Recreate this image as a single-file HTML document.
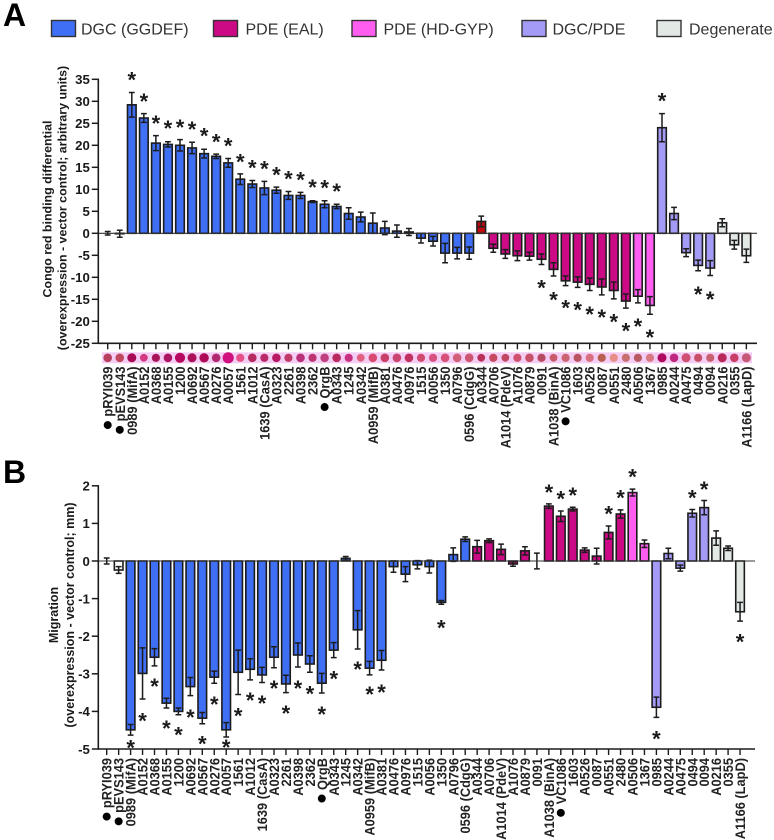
<!DOCTYPE html>
<html lang="en">
<head>
<meta charset="utf-8">
<title>Congo red binding and migration</title>
<style>
html,body{margin:0;padding:0;background:#fff;}
svg{display:block;font-family:"Liberation Sans",Arial,sans-serif;}
.tick{font-weight:bold;font-size:13.2px;fill:#1a1a1a;text-anchor:end;}
.title{font-weight:bold;fill:#1a1a1a;text-anchor:middle;}
.leg{font-size:16px;fill:#333;}
.letter{font-weight:bold;font-size:32px;fill:#000;}
.xl{font-weight:bold;font-size:13.5px;fill:#222;text-anchor:end;}
.star{font-weight:bold;font-size:22px;fill:#1a1a1a;text-anchor:middle;}
</style>
</head>
<body>
<svg id="fig" xmlns="http://www.w3.org/2000/svg" width="774" height="840" viewBox="0 0 774 840">
  <text class="letter" x="3" y="26">A</text>
  <text class="letter" x="3" y="483">B</text>
  <g>
    <rect x="51.5" y="20.5" width="24" height="16" fill="#3f6ff5" stroke="#333" stroke-width="1.4"/>
    <text class="leg" x="81" y="34.5">DGC (GGDEF)</text>
    <rect x="213.5" y="20.5" width="24" height="16" fill="#cc0a85" stroke="#333" stroke-width="1.4"/>
    <text class="leg" x="245.5" y="34.5">PDE (EAL)</text>
    <rect x="352" y="20.5" width="24" height="16" fill="#ff5cf0" stroke="#333" stroke-width="1.4"/>
    <text class="leg" x="383.5" y="34.5">PDE (HD-GYP)</text>
    <rect x="522" y="20.5" width="24" height="16" fill="#a39bf5" stroke="#333" stroke-width="1.4"/>
    <text class="leg" x="552.5" y="34.5">DGC/PDE</text>
    <rect x="657" y="20.5" width="24" height="16" fill="#e2e9e4" stroke="#333" stroke-width="1.4"/>
    <text class="leg" x="689" y="34.5">Degenerate</text>
  </g>
  <g transform="translate(51.5,209) rotate(-90)"><text class="title" font-size="12.4">Congo red binding differential</text></g>
  <g transform="translate(66.5,208) rotate(-90)"><text class="title" font-size="12.4">(overexpression - vector control; arbitrary units)</text></g>
  <g transform="translate(58,615) rotate(-90)"><text class="title" font-size="12.5">Migration</text></g>
  <g transform="translate(74,615) rotate(-90)"><text class="title" font-size="12.5">(overexpression - vector control; mm)</text></g>
  <rect x="102" y="352.3" width="650" height="11" fill="#f3cdf3"/>
</svg>
<script>
const labels = ["pRYI039","pEVS143","0989 (MifA)","A0152","A0368","A0155","1200","A0692","A0567","A0276","A0057","1561","A1012","1639 (CasA)","A0323","2261","A0398","2362","QrgB","A0343","1245","A0342","A0959 (MifB)","A0381","A0476","A0976","1515","A0056","1350","A0796","0596 (CdgG)","A0344","A0706","A1014 (PdeV)","A1076","A0879","0091","A1038 (BinA)","VC1086","1603","A0526","0087","A0551","2480","A0506","1367","0985","A0244","A0475","0494","0094","A0216","0355","A1166 (LapD)"];
const markedLabels = ["pRYI039","pEVS143","QrgB","VC1086"];

const valuesA = [0,-0.1,29.2,26.2,20.5,20.2,20,19.4,18.1,17.5,16,12.3,11.2,10.3,9.8,8.6,8.6,7.2,6.6,6.1,4.5,3.7,2.3,1.2,0.5,0.3,-1.1,-1.8,-4.5,-4.5,-4.5,2.7,-3.4,-4.7,-5.1,-5.2,-5.9,-8.2,-10.8,-11.1,-11.6,-12.2,-13,-15.4,-14.3,-16.4,24,4.5,-4.4,-7.3,-7.9,2.4,-2.6,-5.1];
const errorsA = [0.4,0.8,2.8,1,1.7,0.6,1.3,1.3,1,0.5,1,1.2,0.8,1.5,0.7,0.9,0.7,0.2,0.8,0.5,1.3,1.1,2.3,1.5,1.4,0.8,1.1,1.1,2.2,1.3,1.4,1.2,0.9,1,1.1,0.9,1.2,1.5,1.1,1.2,1.4,1.8,1.9,1.6,1.5,2,3.2,1.4,0.9,1.2,1.7,0.9,1,1.5];
const typesA = ["c","c","d","d","d","d","d","d","d","d","d","d","d","d","d","d","d","d","d","d","d","d","d","d","d","d","d","d","d","d","d","r","e","e","e","e","e","e","e","e","e","e","e","e","h","h","l","l","l","l","l","g","g","g"];
const starIdxA = [2,3,4,5,6,7,8,9,10,11,12,13,14,15,16,17,18,19,36,37,38,39,40,41,42,43,44,45,46,49,50];
const starLevelA = [36,31.2,26.2,25,25.2,24.8,23.3,22,21.1,17.4,16,15.8,14.4,13.5,13.3,11.6,11.5,10.7,-11.2,-13.9,-15.8,-16.2,-17.2,-17.9,-18.9,-21,-20,-22.5,31.3,-12.7,-13.8];
const ticksA = [35,30,25,20,15,10,5,0,-5,-10,-15,-20,-25];

const valuesB = [0,-0.24,-4.49,-2.99,-2.56,-3.78,-4,-3.34,-4.18,-3.09,-4.49,-2.96,-2.88,-3.03,-2.56,-3.27,-2.5,-2.74,-3.25,-2.37,0.07,-1.83,-2.85,-2.64,-0.15,-0.35,-0.1,-0.15,-1.1,0.17,0.58,0.38,0.54,0.31,-0.08,0.27,0,1.46,1.19,1.38,0.29,0.13,0.76,1.25,1.82,0.46,-3.89,0.2,-0.19,1.27,1.42,0.61,0.34,-1.35];
const errorsB = [0.08,0.09,0.14,0.68,0.23,0.13,0.09,0.24,0.15,0.16,0.19,0.59,0.28,0.2,0.28,0.23,0.32,0.22,0.26,0.2,0.05,0.51,0.18,0.26,0.15,0.2,0.11,0.17,0.05,0.18,0.06,0.17,0.05,0.14,0.06,0.11,0.21,0.06,0.14,0.05,0.06,0.21,0.17,0.11,0.09,0.1,0.27,0.14,0.08,0.1,0.19,0.19,0.06,0.25];
const typesB = ["c","c","d","d","d","d","d","d","d","d","d","d","d","d","d","d","d","d","d","d","d","d","d","d","d","d","d","d","d","d","d","e","e","e","e","e","e","e","e","e","e","e","e","e","h","h","l","l","l","l","l","g","g","g"];
const starIdxB = [2,3,4,5,6,7,8,9,10,11,12,13,14,15,16,17,18,19,21,22,23,28,37,38,39,42,43,44,46,49,50,53];
const starLevelB = [-4.83,-4.12,-3.2,-4.31,-4.49,-4.02,-4.73,-3.68,-4.82,-3.98,-3.57,-3.65,-3.25,-3.91,-3.25,-3.4,-3.94,-3,-2.75,-3.41,-3.35,-1.64,1.96,1.79,1.88,1.39,1.81,2.37,-4.59,1.81,2.04,-2.01];
const ticksB = [2,1,0,-1,-2,-3,-4,-5];

const colonyColors = ["#b8405f","#c04a5c","#a80a55","#d43a80","#a81558","#ad1560","#b50a60","#ab1058","#ad0a58","#b02a70","#d0107f","#e8508a","#b52a60","#bb2a68","#b81a65","#c03a68","#b83078","#bb3570","#c04080","#b82a60","#c83080","#e06080","#d84a70","#c84068","#cc4470","#c03060","#d04a70","#d85080","#d85078","#d06078","#cc5570","#b83058","#c84a60","#c04860","#d05070","#c85068","#b84a60","#c85a6a","#cc6570","#b85560","#d87080","#b86050","#e89088","#c87070","#b85a60","#d87880","#b00a60","#c02880","#d05075","#c85068","#c86070","#b82858","#c84068","#c85878"];
const colonySize = [4.3,4.3,4.5,3.9,4.1,4.3,5.1,4.5,4.7,4.3,5.6,4.1,4.3,4.1,4.3,4.1,4.3,4.1,4.3,4.3,4.1,3.9,4.3,4.3,4.3,4.3,4.1,4.1,4.3,4.3,4.3,3.9,4.1,3.9,4.1,4.3,4.1,3.9,4.1,4.1,4.1,4.1,4.1,4.1,4.1,4.1,4.5,4.3,4.5,4.1,4.1,4.5,4.3,4.5];

const fillColors = {c:"#ffffff",d:"#3f6ff5",r:"#c00a12",e:"#cc0a85",h:"#ff5cf0",l:"#a39bf5",g:"#e2e9e4"};

const NS = "http://www.w3.org/2000/svg";
const fig = document.getElementById("fig");
const labelSquash = 0.95;
function make(tag, attrs, parent) {
  const el = document.createElementNS(NS, tag);
  for (const k in attrs) el.setAttribute(k, attrs[k]);
  (parent || fig).appendChild(el);
  return el;
}

function drawPanel(p) {
  const yScale = v => p.y0 + -v * p.unit;
  const xScale = i => p.x0 + i * p.step;
  const g = make("g", {});
  
  
  const yTop = yScale(p.ticks[0]), yBot = yScale(p.ticks[p.ticks.length - 1]);

  p.values.forEach((v, i) => {
    const x = xScale(i), y = yScale(v), yz = yScale(0);
    const bar = make("rect", {x: x - 4.3, y: Math.min(y, yz), width: 8.6, height: Math.abs(y - yz), fill: fillColors[p.types[i]], stroke: "#1c1c1c", "stroke-width": 1.6}, g);
    
    
    const eh = yScale(v + p.errors[i]), el = yScale(v - p.errors[i]);
    const eg = make("path", {d: `M${x} ${eh}V${el}M${x - 2.9} ${eh}H${x + 2.9}M${x - 2.9} ${el}H${x + 2.9}`, stroke: "#1c1c1c", "stroke-width": 1.5, fill: "none"}, g);
    
    
  });

  const zero = make("line", {x1: p.axisX, x2: p.axisEnd, y1: yScale(0), y2: yScale(0), stroke: "#333", "stroke-width": 1.1}, g);
  
  
  const yAxis = make("line", {x1: p.axisX, x2: p.axisX, y1: yTop - 0.7, y2: yBot + 0.7, stroke: "#1c1c1c", "stroke-width": 1.6}, g);
  
  
  const xAxis = make("line", {x1: p.axisX, x2: p.axisEnd, y1: yBot, y2: yBot, stroke: "#1c1c1c", "stroke-width": 1.6}, g);
  
  

  p.ticks.forEach(t => {
    const tk = make("line", {x1: p.axisX - 6.5, x2: p.axisX, y1: yScale(t), y2: yScale(t), stroke: "#1c1c1c", "stroke-width": 1.5}, g);
    
    
    const lb = make("text", {x: p.axisX - 8.5, y: yScale(t) + 4.8, class: "tick"}, g);
    lb.textContent = String(t);
    
    
  });

  labels.forEach((name, i) => {
    const x = xScale(i);
    const tk = make("line", {x1: x, x2: x, y1: yBot, y2: yBot + 6, stroke: "#1c1c1c", "stroke-width": 1.4}, g);
    
    
    const lb = make("text", {class: "xl", transform: `translate(${x + 5},${p.labelTop}) rotate(-90) scale(${labelSquash},1)`}, g);
    lb.textContent = name;
    
    
    if (markedLabels.includes(name)) {
      const len = lb.getComputedTextLength() * labelSquash;
      const dot = make("circle", {cx: x, cy: p.labelTop + len + 8.5, r: 4, fill: "#000"}, g);
      
      
    }
  });

  p.starIdx.forEach((idx, k) => {
    const s = make("text", {x: xScale(idx), y: yScale(p.starLevel[k]) + 12.8, class: "star"}, g);
    s.textContent = "*";
    
    
  });
}

colonyColors.forEach((c, i) => {
  const col = make("circle", {cx: 107.7 + i * 12.05, cy: 357.8, r: colonySize[i], fill: c});
  
  
});

drawPanel({id: "a", x0: 107.7, step: 12.05, y0: 233.3, unit: 4.4, axisX: 98.3, axisEnd: 757, labelTop: 366.5, values: valuesA, errors: errorsA, types: typesA, ticks: ticksA, starIdx: starIdxA, starLevel: starLevelA});
drawPanel({id: "b", x0: 106.7, step: 11.95, y0: 561, unit: 37.6, axisX: 98.3, axisEnd: 755, labelTop: 758, values: valuesB, errors: errorsB, types: typesB, ticks: ticksB, starIdx: starIdxB, starLevel: starLevelB});
</script>
</body>
</html>
